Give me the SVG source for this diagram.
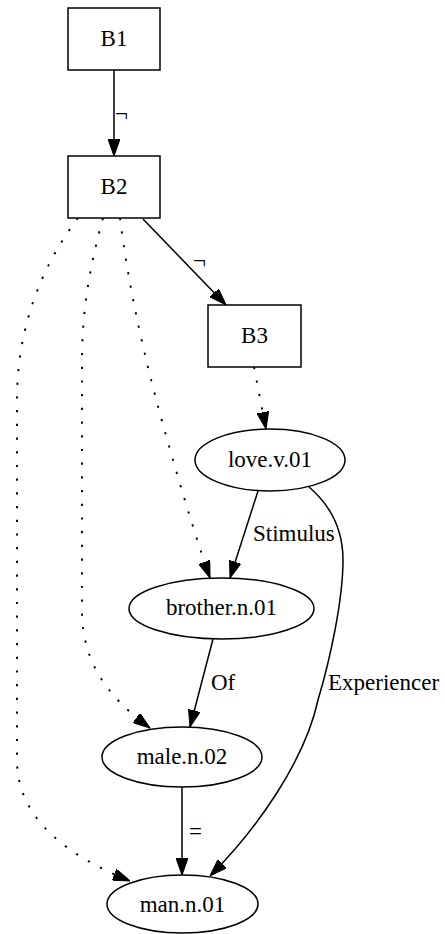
<svg xmlns="http://www.w3.org/2000/svg" width="445" height="934" viewBox="0 0 445 934">
  <style>
    .node rect, .node ellipse { fill: #ffffff; stroke: #000000; stroke-width: 1.5; }
    text { font-family: "Liberation Serif", "Times New Roman", serif; font-size: 23px; fill: #000000; }
    .node text { text-anchor: middle; }
    .edge { fill: none; stroke: #000000; stroke-width: 1.5; marker-end: url(#arrow); }
    .dotted { stroke-width: 1.9; stroke-dasharray: 2.2 11.5; }
  </style>
  <defs>
    <marker id="arrow" viewBox="0 0 10 7" markerUnits="userSpaceOnUse" markerWidth="17" markerHeight="12" refX="10" refY="3.5" orient="auto">
      <path d="M0,0 L10,3.5 L0,7 z" fill="#000000" stroke="#000000" stroke-width="0.6"/>
    </marker>
  </defs>
  <rect width="445" height="934" fill="#ffffff"/>

  <!-- connectors -->
  <g id="edges">
    <path class="edge" d="M114,70 L114,156"/>
    <path class="edge" d="M143,219 L226,305"/>
    <path class="edge dotted" d="M254,367 L266,429"/>
    <path class="edge" d="M258,491 L230,578"/>
    <path class="edge" d="M309,487 C330,505 343,530 343,560 C343,600 330,660 318,700 C305,760 258,828 210,876"/>
    <path class="edge" d="M213,639 L190,727"/>
    <path class="edge" d="M182,787 L182,875"/>
    <path class="edge dotted" d="M120,218 C126,268 138,330 155,395 S198,545 210,578"/>
    <path class="edge dotted" d="M103,218 C90,265 82,310 82,360 L82,610 C82,660 105,695 150,728"/>
    <path class="edge dotted" d="M78,218 C40,268 17,330 17,400 L17,760 C17,820 70,857 130,881"/>
    <text x="115" y="121">¬</text>
    <text x="193" y="268">¬</text>
    <text x="253" y="541">Stimulus</text>
    <text x="328" y="690">Experiencer</text>
    <text x="211" y="690">Of</text>
    <text x="189" y="839">=</text>
  </g>

  <g id="B1" class="node">
    <rect x="68" y="8" width="92" height="62"/>
    <text x="114" y="46">B1</text>
  </g>
  <g id="B2" class="node">
    <rect x="68" y="156" width="92" height="62"/>
    <text x="114" y="194">B2</text>
  </g>
  <g id="B3" class="node">
    <rect x="208" y="305" width="93" height="62"/>
    <text x="254.5" y="343">B3</text>
  </g>
  <g id="love" class="node">
    <ellipse cx="270" cy="460" rx="75" ry="31"/>
    <text x="270" y="467">love.v.01</text>
  </g>
  <g id="brother" class="node">
    <ellipse cx="221.5" cy="608.5" rx="92.5" ry="30.5"/>
    <text x="221.5" y="615">brother.n.01</text>
  </g>
  <g id="male" class="node">
    <ellipse cx="182" cy="757" rx="80" ry="30"/>
    <text x="182" y="764">male.n.02</text>
  </g>
  <g id="man" class="node">
    <ellipse cx="182.5" cy="904" rx="75.5" ry="29"/>
    <text x="182.5" y="912">man.n.01</text>
  </g>
</svg>
